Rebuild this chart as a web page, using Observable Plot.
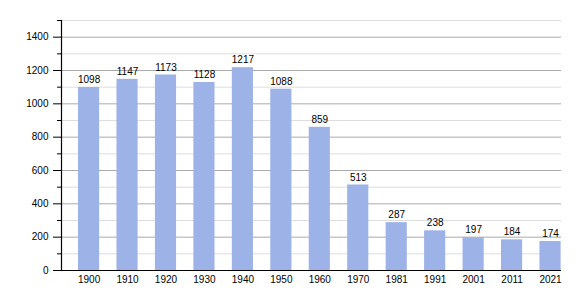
<!DOCTYPE html>
<html>
<head>
<meta charset="utf-8">
<script src="https://cdn.jsdelivr.net/npm/d3@7"></script>
<script src="https://cdn.jsdelivr.net/npm/@observablehq/plot@0.6"></script>
<style>
  html, body { margin: 0; padding: 0; background: #fff; }
  #chart { width: 580px; height: 300px; }
</style>
</head>
<body>
<div id="chart"></div>
<script>
const years = ["1900","1910","1920","1930","1940","1950","1960","1970","1981","1991","2001","2011","2021"];
const population = [1098,1147,1173,1128,1217,1088,859,513,287,238,197,184,174];
const majorTicks = [0,200,400,600,800,1000,1200,1400];
const minorTicks = [100,300,500,700,900,1100,1300,1500];

const data = years.map((y, i) => ({year: y, value: population[i]}));
const font = "'Liberation Sans', Arial, sans-serif";

const chart = Plot.plot({
  width: 580,
  height: 300,
  marginTop: 20,
  marginBottom: 30,
  marginLeft: 61,
  marginRight: 19,
  style: {fontFamily: font, fontSize: "10px", color: "#000", background: "#fff"},
  x: {domain: years, range: [78, 560.6], paddingInner: 0.45, paddingOuter: 0, align: 0.5, round: false, label: null},
  y: {domain: [0, 1500], label: null},
  marks: [
    Plot.gridY(minorTicks, {stroke: "#dddddd", strokeOpacity: 1}),
    Plot.gridY(majorTicks, {stroke: "#aaaaaa", strokeOpacity: 1}),
    Plot.barY(data, {x: "year", y: "value", fill: "#9db2e6"}),
    Plot.text(data, {x: "year", y: "value", text: d => String(d.value), lineAnchor: "bottom", dy: -4.5, fill: "#000", fontSize: 10}),
    Plot.axisY(minorTicks, {tickSize: 4, text: null, stroke: "#000"}),
    Plot.axisY(majorTicks, {tickSize: 8, tickPadding: 5, tickFormat: d => String(d), fontSize: 10, fill: "#000", stroke: "#000", label: null}),
    Plot.axisX({tickSize: 0, tickPadding: 5, fontSize: 10, fill: "#000", label: null}),
    Plot.frame({anchor: "left", stroke: "#000", strokeWidth: 1.2}),
    Plot.ruleY([0], {stroke: "#000", strokeWidth: 1.2})
  ]
});
document.getElementById("chart").appendChild(chart);
</script>
</body>
</html>
